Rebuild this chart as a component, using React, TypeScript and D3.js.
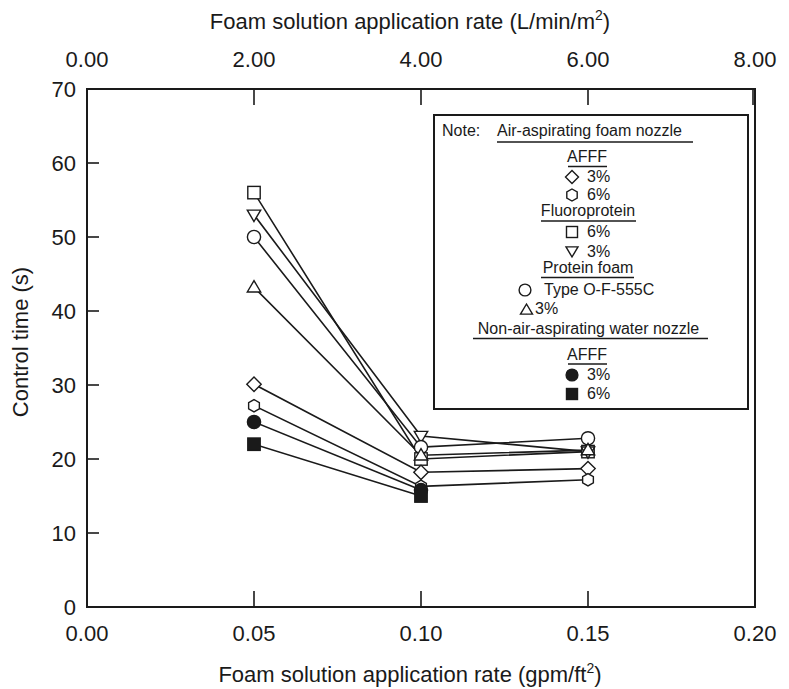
import React from "react";
import * as d3 from "d3";

const xValues = [0.05, 0.1, 0.15];
const afff3Air = [30.1, 18.2, 18.7];
const afff6Air = [27.2, 16.3, 17.2];
const fluoro6 = [56.0, 20.0, 21.0];
const fluoro3 = [53.0, 23.1, 21.0];
const proteinType = [50.0, 21.6, 22.8];
const protein3 = [43.2, 20.5, 21.2];
const afff3Water = [25.0, 15.8];
const afff6Water = [22.0, 15.0];

const bottomTicks = [0, 0.05, 0.1, 0.15, 0.2];
const topTicks = [0, 2, 4, 6, 8];
const yTicks = [0, 10, 20, 30, 40, 50, 60, 70];

type Shape = "diamond" | "hexagon" | "square" | "triDown" | "circle" | "triUp" | "filledCircle" | "filledSquare";

const seriesList: { name: string; shape: Shape; values: number[] }[] = [
  { name: "Fluoroprotein 6%", shape: "square", values: fluoro6 },
  { name: "Fluoroprotein 3%", shape: "triDown", values: fluoro3 },
  { name: "Protein Type O-F-555C", shape: "circle", values: proteinType },
  { name: "Protein 3%", shape: "triUp", values: protein3 },
  { name: "AFFF 3% air", shape: "diamond", values: afff3Air },
  { name: "AFFF 6% air", shape: "hexagon", values: afff6Air },
  { name: "AFFF 3% water", shape: "filledCircle", values: afff3Water },
  { name: "AFFF 6% water", shape: "filledSquare", values: afff6Water },
];

const FONT = "'Liberation Sans', Arial, Helvetica, sans-serif";
const INK = "#1a1a1a";

function Marker({ shape, x, y, s = 6.2 }: { shape: Shape; x: number; y: number; s?: number }) {
  const common = { stroke: INK, strokeWidth: 1.4, fill: "#fff" };
  switch (shape) {
    case "square":
      return <rect x={x - s} y={y - s} width={2 * s} height={2 * s} {...common} />;
    case "filledSquare":
      return <rect x={x - s} y={y - s} width={2 * s} height={2 * s} {...common} fill={INK} />;
    case "circle":
      return <circle cx={x} cy={y} r={s + 0.4} {...common} />;
    case "filledCircle":
      return <circle cx={x} cy={y} r={s + 0.4} {...common} fill={INK} />;
    case "diamond":
      return <path d={`M${x},${y - s - 1}L${x + s + 1},${y}L${x},${y + s + 1}L${x - s - 1},${y}Z`} {...common} />;
    case "triUp":
      return <path d={`M${x},${y - s - 0.5}L${x + s + 0.5},${y + s * 0.75}L${x - s - 0.5},${y + s * 0.75}Z`} {...common} />;
    case "triDown":
      return <path d={`M${x},${y + s + 0.5}L${x + s + 0.5},${y - s * 0.75}L${x - s - 0.5},${y - s * 0.75}Z`} {...common} />;
    case "hexagon": {
      const pts = d3.range(6).map((i) => {
        const a = (Math.PI / 3) * i - Math.PI / 2;
        return [x + s * Math.cos(a), y + s * Math.sin(a)];
      });
      return <path d={"M" + pts.map((p) => p.join(",")).join("L") + "Z"} {...common} />;
    }
  }
  return null;
}

export default function App() {
  const W = 789;
  const H = 689;
  const left = 87;
  const right = 755;
  const top = 89;
  const bottom = 607;

  const x = d3.scaleLinear().domain([0, 0.2]).range([left, right]);
  const xTop = d3.scaleLinear().domain([0, 8]).range([left, right]);
  const y = d3.scaleLinear().domain([0, 70]).range([bottom, top]);

  const line = d3
    .line<number>()
    .x((_, i) => x(xValues[i]))
    .y((d) => y(d));

  const lx = 588; // legend center
  return (
    <svg width={W} height={H} style={{ display: "block", position: "absolute", left: 0, top: 0 }} fontFamily={FONT}>
      <rect x={0} y={0} width={W} height={H} fill="#fff" />
      {/* Top title */}
      <text x={410} y={29} fontSize={22} textAnchor="middle" fill={INK}>
        Foam solution application rate (L/min/m
        <tspan fontSize={14} dy={-9}>2</tspan>
        <tspan dy={9}>)</tspan>
      </text>
      {/* Top tick labels */}
      {topTicks.map((t) => (
        <text key={"tt" + t} x={xTop(t)} y={67} fontSize={22} textAnchor="middle" fill={INK}>
          {t.toFixed(2)}
        </text>
      ))}
      {/* Bottom tick labels */}
      {bottomTicks.map((t) => (
        <text key={"bt" + t} x={x(t)} y={641} fontSize={22} textAnchor="middle" fill={INK}>
          {t.toFixed(2)}
        </text>
      ))}
      {/* Bottom title */}
      <text x={410} y={682} fontSize={22} textAnchor="middle" fill={INK}>
        Foam solution application rate (gpm/ft
        <tspan fontSize={14} dy={-9}>2</tspan>
        <tspan dy={9}>)</tspan>
      </text>
      {/* Y tick labels */}
      {yTicks.map((t) => (
        <text key={"yt" + t} x={76} y={y(t)} dy="0.36em" fontSize={22} textAnchor="end" fill={INK}>
          {t}
        </text>
      ))}
      {/* Y title */}
      <text transform={`translate(28,${(top + bottom) / 2 - 6}) rotate(-90)`} fontSize={22} textAnchor="middle" fill={INK}>
        Control time (s)
      </text>

      {/* ticks */}
      {yTicks.slice(1, -1).map((t) => (
        <line key={"ytk" + t} x1={left} x2={left + 12} y1={y(t)} y2={y(t)} stroke={INK} strokeWidth={1.6} />
      ))}
      {bottomTicks.slice(1, -1).map((t) => (
        <line key={"btk" + t} x1={x(t)} x2={x(t)} y1={bottom} y2={bottom - 16} stroke={INK} strokeWidth={1.6} />
      ))}
      {topTicks.slice(1).map((t) => (
        <line key={"ttk" + t} x1={xTop(t) - (t === 8 ? 2 : 0)} x2={xTop(t) - (t === 8 ? 2 : 0)} y1={top} y2={top + 16} stroke={INK} strokeWidth={1.6} />
      ))}

      {/* frame */}
      <rect x={left} y={top} width={right - left} height={bottom - top} fill="none" stroke={INK} strokeWidth={2} />

      {/* legend box */}
      <rect x={434} y={115} width={314} height={294} fill="#fff" stroke={INK} strokeWidth={2} />
      <g fontSize={16} fill={INK}>
        <text x={442} y={136}>Note:</text>
        <text x={497} y={136}>Air-aspirating foam nozzle</text>
        <line x1={497} x2={693} y1={142} y2={142} stroke={INK} strokeWidth={1.5} />

        <text x={lx - 1} y={162} textAnchor="middle">AFFF</text>
        <line x1={568} x2={607} y1={166.5} y2={166.5} stroke={INK} strokeWidth={1.5} />
        <Marker shape="diamond" x={572} y={177} s={5.5} />
        <text x={587} y={182}>3%</text>
        <Marker shape="hexagon" x={572} y={195} s={6} />
        <text x={587} y={200}>6%</text>

        <text x={lx} y={216} textAnchor="middle">Fluoroprotein</text>
        <line x1={541} x2={636} y1={221} y2={221} stroke={INK} strokeWidth={1.5} />
        <Marker shape="square" x={572} y={232} s={5.5} />
        <text x={587} y={237}>6%</text>
        <Marker shape="triDown" x={572} y={251} s={5.5} />
        <text x={587} y={257}>3%</text>

        <text x={lx} y={273} textAnchor="middle">Protein foam</text>
        <line x1={541} x2={634} y1={277.5} y2={277.5} stroke={INK} strokeWidth={1.5} />
        <Marker shape="circle" x={525} y={290} s={5.5} />
        <text x={544} y={295}>Type O-F-555C</text>
        <Marker shape="triUp" x={526.5} y={310} s={5.5} />
        <text x={535} y={314}>3%</text>

        <text x={lx + 0.5} y={334} textAnchor="middle">Non-air-aspirating water nozzle</text>
        <line x1={473} x2={708} y1={338.5} y2={338.5} stroke={INK} strokeWidth={1.5} />

        <text x={lx - 1} y={360} textAnchor="middle">AFFF</text>
        <line x1={568} x2={607} y1={364} y2={364} stroke={INK} strokeWidth={1.5} />
        <Marker shape="filledCircle" x={572} y={375} s={5.5} />
        <text x={587} y={380}>3%</text>
        <Marker shape="filledSquare" x={572} y={394} s={5.5} />
        <text x={587} y={399}>6%</text>
      </g>

      {/* series lines */}
      {seriesList.map((s) => (
        <path key={"l" + s.name} d={line(s.values) || ""} fill="none" stroke={INK} strokeWidth={1.6} />
      ))}
      {/* markers */}
      {seriesList.map((s) =>
        s.values.map((v, i) => <Marker key={s.name + i} shape={s.shape} x={x(xValues[i])} y={y(v)} />)
      )}
    </svg>
  );
}
